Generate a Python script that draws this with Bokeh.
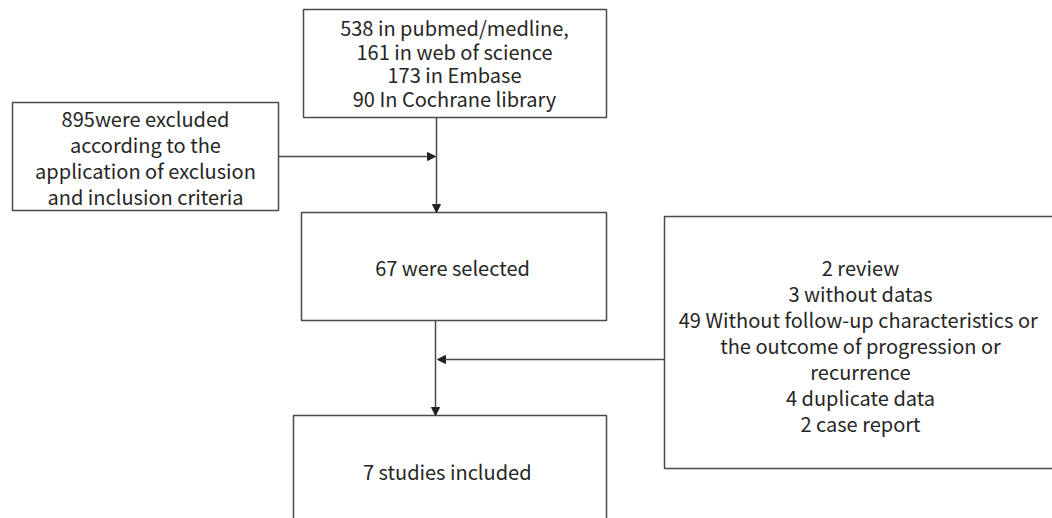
from bokeh.plotting import figure
from bokeh.models import Arrow, NormalHead, Range1d
from bokeh.core.properties import value
from bokeh.embed import file_html
from bokeh.resources import INLINE

# ---- data (texts of the flow diagram) ----
search_lines = ["538 in pubmed/medline,", "161 in web of science", "173 in Embase", "90 In Cochrane library"]
excluded_lines = ["895were excluded", "according to the", "application of exclusion", "and inclusion criteria"]
selected_lines = ["67 were selected"]
removed_lines = ["2 review", "3 without datas", "49  Without follow-up characteristics or",
                 "the outcome of progression or", "recurrence", "4 duplicate data", "2 case report"]
included_lines = ["7  studies included"]

W, H = 1052, 518
p = figure(width=W, height=H, output_backend="svg", toolbar_location=None,
           x_range=Range1d(0, W), y_range=Range1d(H, 0),
           min_border=0, outline_line_color=None)
p.axis.visible = False
p.grid.visible = False
p.background_fill_color = "white"

LINE = "#4a4a4a"
TXT = "#262626"
FONT = value("Noto Sans CJK SC")

# boxes: (left, right, top, bottom)
boxes = [
    (303, 606, 9, 117),
    (12, 278, 102, 210),
    (301, 606, 212, 320),
    (664, 1120, 216, 468),
    (293, 606, 415, 640),
]
p.quad(left=[b[0] for b in boxes], right=[b[1] for b in boxes],
       top=[b[2] for b in boxes], bottom=[b[3] for b in boxes],
       fill_alpha=0, line_color=LINE, line_width=1.5)

# arrows
arrows = [
    (436, 117, 436, 212),
    (278, 156, 435, 156),
    (435, 320, 435, 415),
    (664, 359, 437, 359),
]
for x0, y0, x1, y1 in arrows:
    p.add_layout(Arrow(end=NormalHead(size=8, fill_color="#222222", line_color="#222222"),
                       x_start=x0, y_start=y0, x_end=x1, y_end=y1,
                       line_color=LINE, line_width=1.5))

def block(lines, cx, cy, spacing):
    n = len(lines)
    ys = [cy + (i - (n - 1) / 2) * spacing for i in range(n)]
    p.text(x=[cx] * n, y=ys, text=lines, text_align="center", text_baseline="middle",
           text_font=FONT, text_font_size="20px", text_color=TXT)

block(search_lines, 454, 62.5, 23.7)
block(excluded_lines, 145, 156.5, 26)
block(selected_lines, 452, 267, 26)
block(removed_lines, 860, 345, 26)
block(included_lines, 449, 471, 26)

open("out.html", "w").write(file_html(p, INLINE))
